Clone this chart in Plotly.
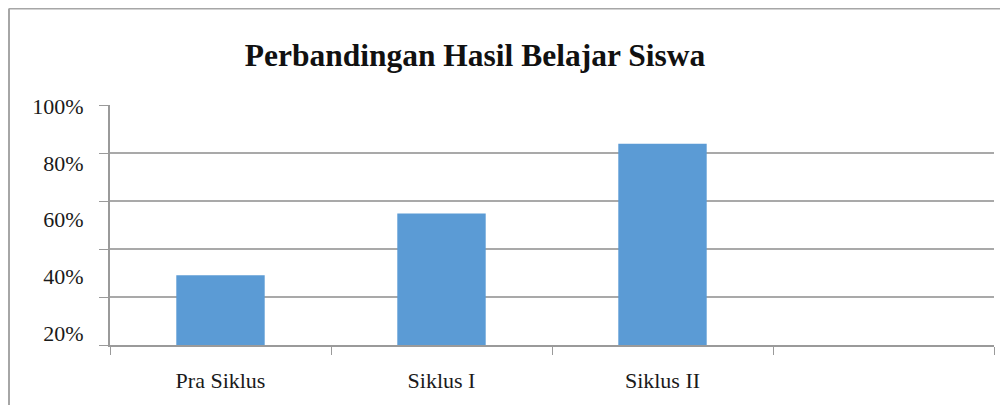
import plotly.graph_objects as go

# Data
categories = ["Pra Siklus", "Siklus I", "Siklus II", " "]
values = [29.1, 54.8, 83.9, None]
y_tick_values = [20, 40, 60, 80, 100]
y_tick_labels = ["20%", "40%", "60%", "80%", "100%"]
title_text = "Perbandingan Hasil Belajar Siswa"

# page body adds an 8px offset; figure sized to fit inside the window
W, H = 1000, 397
L, R, T, B = 102, 14, 97, 60
PW, PH = W - L - R, H - T - B
serif = "Liberation Serif, Times New Roman, serif"
grid_col = "#a9a9a9"
axis_col = "#9a9a9a"

fig = go.Figure()
fig.add_trace(go.Bar(x=categories, y=values, marker=dict(color="#5b9bd5", line=dict(width=0)),
                     showlegend=False, hoverinfo="skip"))
# invisible trace to activate label axis
fig.add_trace(go.Scatter(x=[categories[0]], y=[50], yaxis="y2", mode="markers",
                         marker=dict(opacity=0), showlegend=False, hoverinfo="skip"))

fx = (1 - L) / PW
fy = (T - 0.5 + PH) / PH

fig.update_layout(
    width=W, height=H,
    margin=dict(l=L, r=R, t=T, b=B),
    paper_bgcolor="white", plot_bgcolor="white",
    bargap=0.6,
    title=dict(text="<b>" + title_text + "</b>", x=467 / W, xanchor="center", xref="container",
               y=1 - 47 / H, yanchor="middle", yref="container",
               font=dict(family=serif, size=31.5, color="#111111")),
    xaxis=dict(type="category", categoryorder="array", categoryarray=categories,
               range=[-0.5, 3.5], tickson="boundaries", ticks="outside", ticklen=8,
               tickcolor=axis_col, tickwidth=1.2, showline=True, linecolor=axis_col, linewidth=1.5,
               showgrid=False, tickfont=dict(family=serif, size=22, color="#1a1a1a"),
               ticklabelstandoff=15),
    yaxis=dict(range=[0, 100], dtick=20, showgrid=True, gridcolor=grid_col, gridwidth=1.5,
               showticklabels=False, ticks="outside", ticklen=9, tickcolor=axis_col, tickwidth=1.2,
               showline=True, linecolor=axis_col, linewidth=1.5, zeroline=False),
    yaxis2=dict(overlaying="y", side="left", range=[15.8, 100.5], tickmode="array",
                tickvals=y_tick_values, ticktext=y_tick_labels, showgrid=False, zeroline=False,
                showline=False, ticks="outside", ticklen=21, tickcolor="rgba(0,0,0,0)",
                tickfont=dict(family=serif, size=22, color="#1a1a1a")),
    shapes=[
        dict(type="line", xref="paper", yref="paper", x0=fx, x1=1.1, y0=fy, y1=fy,
             line=dict(color="#a6a6a6", width=2)),
        dict(type="line", xref="paper", yref="paper", x0=fx, x1=fx, y0=fy, y1=-0.5,
             line=dict(color="#a6a6a6", width=2)),
    ],
)

fig.write_html("out.html")
